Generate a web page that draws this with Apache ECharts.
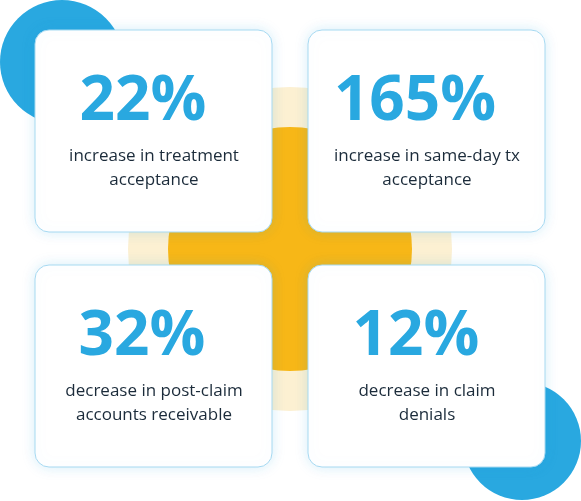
<!DOCTYPE html>
<html>
<head>
<meta charset="utf-8">
<script src="https://cdn.jsdelivr.net/npm/echarts@6/dist/echarts.min.js"></script>
<style>html,body{margin:0;padding:0;background:#fff;}#main{width:581px;height:501px;}</style>
</head>
<body>
<div id="main"></div>
<script>
// stat values and captions
var statValues = ['22%', '165%', '32%', '12%'];
var statLines1 = ['increase in treatment', 'increase in same-day tx', 'decrease in post-claim', 'decrease in claim'];
var statLines2 = ['acceptance', 'acceptance', 'accounts receivable', 'denials'];

// card boxes [x, y] and number centre x
var cardPos = [[35, 30], [308, 30], [35, 265], [308, 265]];
var numX = [143, 415, 142, 416];

var blue = '#29a8e0';
var els = [
    {type: 'circle', shape: {cx: 62, cy: 62, r: 62}, style: {fill: blue}},
    {type: 'circle', shape: {cx: 522, cy: 441, r: 59}, style: {fill: blue}},
    {type: 'circle', shape: {cx: 290, cy: 249, r: 162}, style: {fill: '#fcf0d2'}},
    {type: 'circle', shape: {cx: 290, cy: 249, r: 122}, style: {fill: '#f7b717'}}
];

for (var i = 0; i < statValues.length; i++) {
    var x = cardPos[i][0], y = cardPos[i][1];
    els.push({
        type: 'rect',
        shape: {x: x, y: y, width: 237, height: 202, r: 14},
        style: {fill: '#fff', stroke: '#a6d9f1', lineWidth: 1,
            shadowBlur: 14, shadowColor: 'rgba(41,168,224,0.18)'}
    });
    els.push({
        type: 'text', x: numX[i], y: y + 72,
        style: {text: statValues[i], fill: blue, font: 'bold 62px "Open Sans"', align: 'center', verticalAlign: 'middle'}
    });
    els.push({
        type: 'text', x: x + 119, y: y + 138,
        style: {text: statLines1[i] + '\n' + statLines2[i], fill: '#1b2b3a', font: '17px "Open Sans"',
            lineHeight: 24, align: 'center', verticalAlign: 'middle'}
    });
}

var myChart = echarts.init(document.getElementById('main'));
myChart.setOption({graphic: {elements: els}});
</script>
</body>
</html>
